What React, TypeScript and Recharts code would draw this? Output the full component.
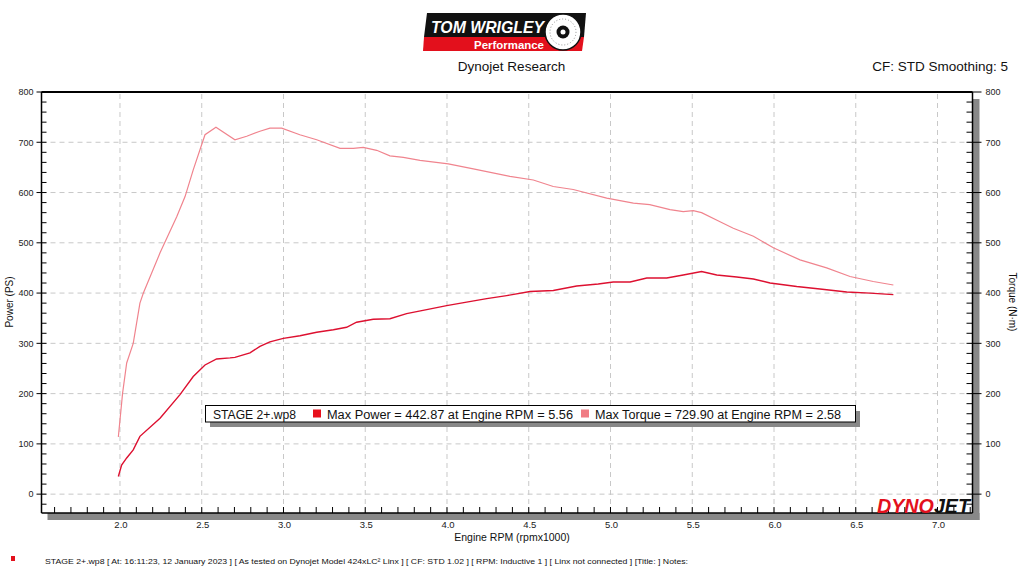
import { LineChart, Line, XAxis, YAxis, ReferenceLine } from "recharts";

// values (rpm in thousands)
const powerRpm = [
  1.99, 2.01, 2.041, 2.081, 2.122, 2.245, 2.367, 2.448, 2.52, 2.591, 2.673, 2.703,
  2.795, 2.856, 2.917, 2.999, 3.101, 3.203, 3.305, 3.386, 3.447, 3.549, 3.651, 3.753,
  3.876, 3.998, 4.12, 4.243, 4.365, 4.508, 4.65, 4.793, 4.925, 5.017, 5.12, 5.222,
  5.344, 5.445, 5.557, 5.65, 5.772, 5.874, 5.976, 6.139, 6.281, 6.445, 6.587, 6.73,
];
const powerPs = [
  35, 58, 72, 88, 115, 151, 198, 234, 257, 269, 271, 272,
  281, 294, 303, 310, 315, 322, 327, 332, 342, 348, 349, 359,
  367, 375, 382, 389, 395, 403, 405, 414, 418, 422, 422, 430,
  430, 436, 443, 436, 432, 428, 420, 413, 408, 402, 400, 397,
];

const torqueRpm = [
  1.99, 2.016, 2.041, 2.081, 2.122, 2.143, 2.245, 2.347, 2.398, 2.448, 2.52, 2.587,
  2.703, 2.775, 2.856, 2.917, 2.989, 3.1, 3.203, 3.346, 3.427, 3.488, 3.57, 3.651,
  3.733, 3.835, 4.008, 4.161, 4.385, 4.528, 4.65, 4.772, 4.977, 5.14, 5.24, 5.364,
  5.445, 5.506, 5.557, 5.67, 5.751, 5.874, 5.996, 6.159, 6.322, 6.465, 6.607, 6.73,
];
const torqueNm = [
  114, 201, 261, 300, 380, 400, 480, 552, 592, 645, 715, 730,
  705, 712, 722, 728, 728, 715, 705, 688, 688, 690, 684, 673,
  670, 664, 657, 647, 632, 625, 612, 606, 589, 579, 576, 566,
  562, 564, 560, 542, 529, 513, 490, 466, 450, 433, 423, 416,
];

const rpmGrid = [2.0, 2.5, 3.0, 3.5, 4.0, 4.5, 5.0, 5.5, 6.0, 6.5, 7.0];
const rpmLabels = ["2.0", "2.5", "3.0", "3.5", "4.0", "4.5", "5.0", "5.5", "6.0", "6.5", "7.0"];
const valueGrid = [0, 100, 200, 300, 400, 500, 600, 700];
const valueLabels = ["0", "100", "200", "300", "400", "500", "600", "700", "800"];

const legendItems = [
  { name: "Max Power", max: "442.87", at: "5.56", color: "#e8101c" },
  { name: "Max Torque", max: "729.90", at: "2.58", color: "#f07c84" },
];

const POWER_COLOR = "#dd1030";
const TORQUE_COLOR = "#f0848e";
const GRID = "#c8c8c8";
const FONT = "'Liberation Sans', Arial, sans-serif";

const minorRpm = Array.from({ length: 57 }, (_, i) => Math.round((1.6 + i * 0.1) * 10) / 10);
const minorValue = Array.from({ length: 42 }, (_, i) => -20 + i * 20);

const powerData = powerRpm.map((rpm, i) => ({ rpm, value: powerPs[i] }));
const torqueData = torqueRpm.map((rpm, i) => ({ rpm, value: torqueNm[i] }));

// plot box (must agree with margins below)
const PL = 41.5;
const PR = 972.5;
const PT = 92;
const PB = 513;

const labelFor = (v: number) => {
  const i = rpmGrid.findIndex((g) => Math.abs(g - v) < 1e-6);
  return i >= 0 ? rpmLabels[i] : null;
};

function RpmTick(props: any) {
  const { x, y, payload } = props;
  const ay = y - 8;
  const label = labelFor(payload.value);
  return (
    <g>
      <line x1={x} x2={x} y1={ay} y2={ay - 6} stroke="#000" strokeWidth={1} />
      {label && (
        <text x={x + 1} y={ay + 15} textAnchor="middle" fontSize={9.5} fill="#222" fontFamily={FONT}>
          {label}
        </text>
      )}
    </g>
  );
}

function LeftTick(props: any) {
  const { x, y, payload } = props;
  const ax = x + 8;
  const v = payload.value;
  const major = v % 100 === 0;
  return (
    <g>
      <line x1={major ? ax - 5 : ax} x2={ax + 5} y1={y} y2={y} stroke="#000" />
      {major && (
        <text x={ax - 8} y={y + 3.3} textAnchor="end" fontSize={9} fill="#222" fontFamily={FONT}>
          {valueLabels[v / 100]}
        </text>
      )}
    </g>
  );
}

function RightTick(props: any) {
  const { x, y, payload } = props;
  const ax = x - 8;
  const v = payload.value;
  const major = v % 100 === 0;
  return (
    <g>
      <line x1={ax - 6} x2={major ? ax + 9 : ax} y1={y} y2={y} stroke="#000" />
      {major && (
        <text x={ax + 13} y={y + 3.3} textAnchor="start" fontSize={9} fill="#222" fontFamily={FONT}>
          {valueLabels[v / 100]}
        </text>
      )}
    </g>
  );
}

function Header() {
  return (
    <g fontFamily={FONT}>
      <polygon points="427,13 586,13 584,37 424,37" fill="#111" />
      <polygon points="424,37 584,37 582,51 423,51" fill="#e3101c" />
      <text x={431} y={33} fill="#fff" fontSize={17} fontWeight={700} fontStyle="italic" textLength={113} lengthAdjust="spacingAndGlyphs">
        TOM WRIGLEY
      </text>
      <text x={474} y={49} fill="#fff" fontSize={10.5} fontWeight={700} textLength={70} lengthAdjust="spacingAndGlyphs">
        Performance
      </text>
      <circle cx={563} cy={32} r={18} fill="#fff" stroke="#111" strokeWidth={1.5} />
      <circle cx={563} cy={32} r={13} fill="none" stroke="#777" strokeWidth={0.8} strokeDasharray="1 2" />
      <circle cx={563} cy={32} r={6.5} fill="#111" />
      <circle cx={563} cy={32} r={2.5} fill="#fff" />
      <text x={511.5} y={71} textAnchor="middle" fontSize={13.5} fill="#111">Dynojet Research</text>
      <text x={1008} y={71} textAnchor="end" fontSize={13.5} fill="#111">CF: STD Smoothing: 5</text>
    </g>
  );
}

function LegendBox() {
  return (
    <g fontFamily={FONT}>
      <rect x={210} y={411} width={650} height={16} fill="#888" />
      <rect x={205.5} y={405.5} width={650} height={16.5} fill="#fff" stroke="#000" />
      <text x={213} y={418.5} fontSize={12} fill="#111" textLength={83} lengthAdjust="spacingAndGlyphs">
        STAGE 2+.wp8
      </text>
      {legendItems.map((it, i) => {
        const sx = i === 0 ? 313 : 581;
        return (
          <g key={it.name}>
            <rect x={sx} y={409.5} width={8} height={8} fill={it.color} />
            <text x={sx + 14} y={418.5} fontSize={12} fill="#111" textLength={246} lengthAdjust="spacingAndGlyphs">
              {`${it.name} = ${it.max} at Engine RPM = ${it.at}`}
            </text>
          </g>
        );
      })}
    </g>
  );
}

function Decorations() {
  return (
    <g fontFamily={FONT}>
      <text x={877} y={513} fontSize={20} fontWeight={900} fontStyle="italic" textLength={93} lengthAdjust="spacingAndGlyphs">
        <tspan fill="#e3101c">DYNO</tspan>
        <tspan fill="#111">JET</tspan>
      </text>
      <text x={512} y={541} textAnchor="middle" fontSize={10.5} fill="#111">Engine RPM (rpmx1000)</text>
      <text transform="translate(13,302) rotate(-90)" textAnchor="middle" fontSize={10} fill="#111">Power (PS)</text>
      <text transform="translate(1009,302) rotate(90)" textAnchor="middle" fontSize={10} fill="#111">Torque (N·m)</text>
      <rect x={11} y={556} width={4} height={5} fill="#e3101c" />
      <text x={45} y={564} fontSize={8} fill="#111" textLength={643} lengthAdjust="spacingAndGlyphs">
        STAGE 2+.wp8 [ At: 16:11:23, 12 January 2023 ] [ As tested on Dynojet Model 424xLC² Linx ] [ CF: STD 1.02 ] [ RPM: Inductive 1 ] [ Linx not connected ] [Title: ]  Notes:
      </text>
    </g>
  );
}

export default function App() {
  return (
    <div style={{ position: "fixed", left: 0, top: 0, width: 1024, height: 576, background: "#fff" }}>
      <svg width={1024} height={576} style={{ position: "absolute", left: 0, top: 0 }}>
        <rect x={PL + 6} y={PB} width={PR - PL + 1} height={7} fill="#888" />
        <rect x={PR} y={PT + 7} width={7} height={PB - PT} fill="#888" />
      </svg>
      <div style={{ position: "absolute", left: 0, top: 0 }}>
        <LineChart
          width={1024}
          height={576}
          margin={{ top: PT, left: PL - 36, right: 1024 - PR - 40, bottom: 576 - PB - 30 }}
        >
          <XAxis
            type="number"
            dataKey="rpm"
            domain={[1.52, 7.214]}
            allowDataOverflow
            ticks={minorRpm}
            interval={0}
            tickSize={5}
            tickMargin={3}
            tickLine={false}
            tick={<RpmTick />}
            axisLine={{ stroke: "#000", strokeWidth: 1.5 }}
            height={30}
          />
          <YAxis
            yAxisId="left"
            type="number"
            domain={[-37.5, 800]}
            allowDataOverflow
            ticks={minorValue}
            interval={0}
            tickSize={5}
            tickMargin={3}
            tickLine={false}
            tick={<LeftTick />}
            axisLine={{ stroke: "#000", strokeWidth: 1.5 }}
            width={36}
          />
          <YAxis
            yAxisId="right"
            orientation="right"
            type="number"
            domain={[-37.5, 800]}
            allowDataOverflow
            ticks={minorValue}
            interval={0}
            tickSize={5}
            tickMargin={3}
            tickLine={false}
            tick={<RightTick />}
            axisLine={{ stroke: "#000", strokeWidth: 1.5 }}
            width={40}
          />
          {valueGrid.map((v) => (
            <ReferenceLine key={`h${v}`} yAxisId="left" y={v} stroke={GRID} strokeDasharray="5 4" />
          ))}
          {rpmGrid.map((v) => (
            <ReferenceLine key={`v${v}`} yAxisId="left" x={v} stroke={GRID} strokeDasharray="5 4" />
          ))}
          <ReferenceLine yAxisId="left" y={800} stroke="#000" strokeWidth={2} />
          <Line
            yAxisId="right"
            data={torqueData}
            dataKey="value"
            type="linear"
            stroke={TORQUE_COLOR}
            strokeWidth={1.2}
            dot={false}
            isAnimationActive={false}
          />
          <Line
            yAxisId="left"
            data={powerData}
            dataKey="value"
            type="linear"
            stroke={POWER_COLOR}
            strokeWidth={1.4}
            dot={false}
            isAnimationActive={false}
          />
        </LineChart>
      </div>
      <svg width={1024} height={576} style={{ position: "absolute", left: 0, top: 0, pointerEvents: "none" }}>
        <Header />
        <LegendBox />
        <Decorations />
      </svg>
    </div>
  );
}
